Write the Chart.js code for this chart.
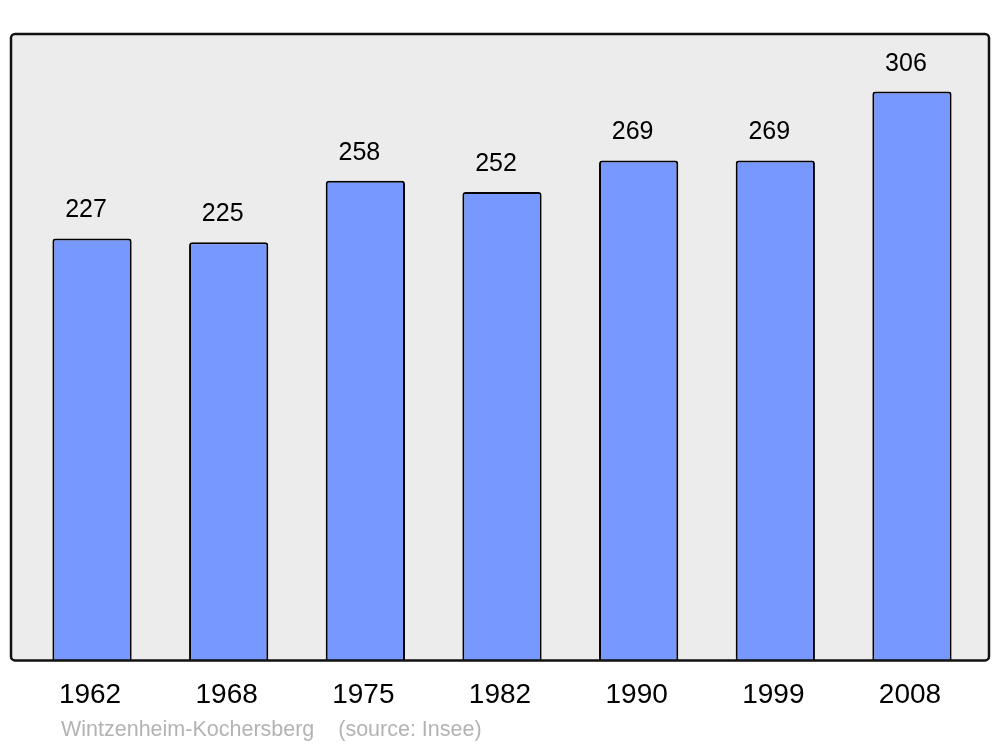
<!DOCTYPE html>
<html>
<head>
<meta charset="utf-8">
<script src="https://cdn.jsdelivr.net/npm/chart.js@4"></script>
<style>
  html, body { margin: 0; padding: 0; background: #fff; }
  #wrap { width: 1000px; height: 747px; }
</style>
</head>
<body>
<div id="wrap"><canvas id="popChart" width="1000" height="747"></canvas></div>
<script>
// Données
const years = ['1962', '1968', '1975', '1982', '1990', '1999', '2008'];
const population = [227, 225, 258, 252, 269, 269, 306];
const yMax = 337;
const sourceText = 'Wintzenheim-Kochersberg    (source: Insee)';

const FONT = '"Liberation Sans", Arial, sans-serif';

// Cadre gris + étiquettes de valeurs
const framePlugin = {
    id: 'frame',
    beforeDatasetsDraw(chart) {
        const { ctx, chartArea: a } = chart;
        ctx.save();
        ctx.beginPath();
        ctx.roundRect(a.left - 12.7, a.top, (a.right - a.left) + 21.4, a.bottom - a.top, 4);
        ctx.fillStyle = '#ececec';
        ctx.fill();
        ctx.restore();
    },
    afterDatasetsDraw(chart) {
        const { ctx, chartArea: a } = chart;
        ctx.save();
        ctx.beginPath();
        ctx.roundRect(a.left - 12.7, a.top, (a.right - a.left) + 21.4, a.bottom - a.top, 4);
        ctx.lineWidth = 2.5;
        ctx.strokeStyle = '#111';
        ctx.stroke();

        const meta = chart.getDatasetMeta(0);
        ctx.fillStyle = '#000';
        ctx.font = '25px ' + FONT;
        ctx.textAlign = 'center';
        ctx.textBaseline = 'middle';
        meta.data.forEach((bar, i) => {
            ctx.fillText(population[i], bar.x - 6, bar.y - 28);
        });

        ctx.fillStyle = '#b3b3b3';
        ctx.font = '21.5px ' + FONT;
        ctx.textAlign = 'left';
        ctx.fillText(sourceText, 61, 730);
        ctx.restore();
    }
};

const ctx = document.getElementById('popChart').getContext('2d');
new Chart(ctx, {
    type: 'bar',
    data: {
        labels: years,
        datasets: [{
            data: population,
            backgroundColor: '#7799ff',
            borderColor: '#000',
            borderWidth: 2,
            borderSkipped: 'bottom',
            borderRadius: { topLeft: 3, topRight: 3 },
            categoryPercentage: 1,
            barPercentage: 0.58
        }]
    },
    options: {
        responsive: false,
        animation: false,
        layout: {
            padding: { left: 23.7, right: 19.7, top: 34, bottom: 17 }
        },
        scales: {
            x: {
                grid: { display: false, drawTicks: false },
                border: { display: false },
                ticks: {
                    color: '#000',
                    padding: 18,
                    labelOffset: -2,
                    font: { size: 28, family: FONT }
                }
            },
            y: {
                display: false,
                min: 0,
                max: yMax
            }
        },
        plugins: {
            legend: { display: false },
            tooltip: { enabled: false }
        }
    },
    plugins: [framePlugin]
});
</script>
</body>
</html>
